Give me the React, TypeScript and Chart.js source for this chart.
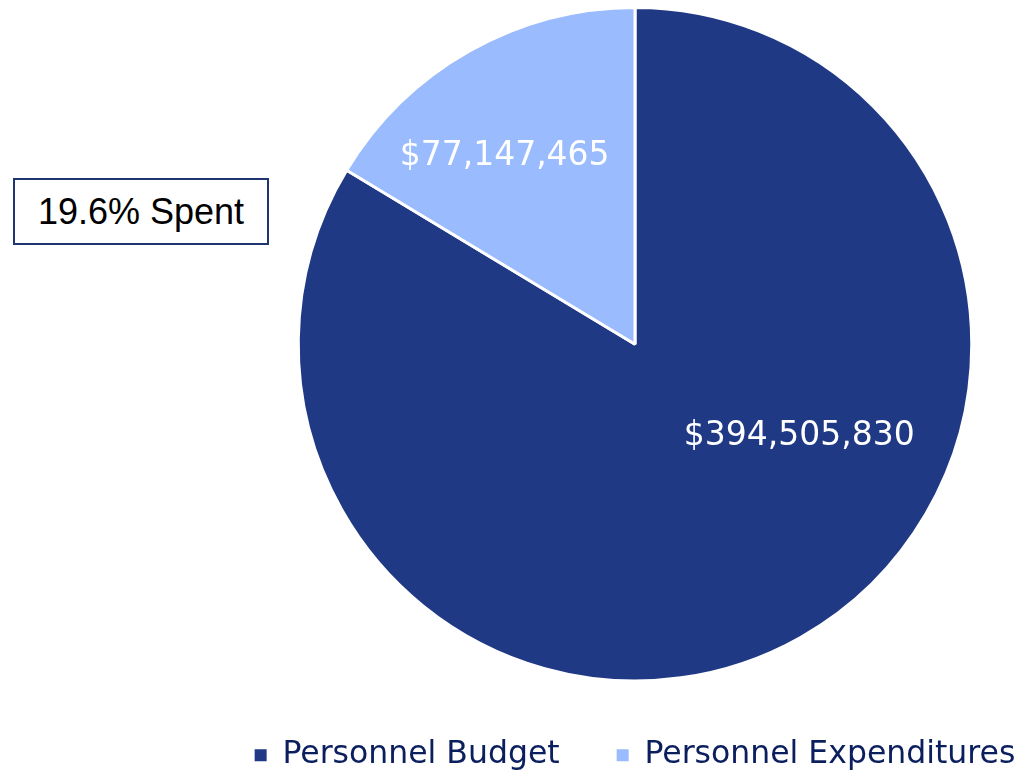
import React, { useEffect, useRef } from "react";
import { Chart, registerables } from "chart.js";

Chart.register(...registerables);

const categories = ["Personnel Budget", "Personnel Expenditures"];
const values = [394505830, 77147465];
const valueLabels = ["$394,505,830", "$77,147,465"];
const sliceColors = ["#1F3985", "#9ABBFD"];
// label placement: angle (deg, 0 = 3 o'clock, clockwise) and fraction of radius
const labelAngles = [29.4, -124.7];
const labelRadii = [0.56, 0.68];
const annotationText = "19.6% Spent";

const FONT = "'Liberation Sans', Arial, sans-serif";
const FONT2 = "'DejaVu Sans', sans-serif";

const labelPlugin = {
  id: "sliceLabels",
  afterDatasetsDraw(chart: any) {
    const meta = chart.getDatasetMeta(0);
    const ctx = chart.ctx;
    ctx.save();
    ctx.fillStyle = "#FFFFFF";
    ctx.font = `33px ${FONT2}`;
    ctx.textAlign = "center";
    ctx.textBaseline = "middle";
    meta.data.forEach((arc: any, i: number) => {
      const a = (labelAngles[i] * Math.PI) / 180;
      const r = arc.outerRadius * labelRadii[i];
      ctx.fillText(valueLabels[i], arc.x + r * Math.cos(a), arc.y + r * Math.sin(a));
    });
    ctx.restore();
  },
};

export default function App() {
  const canvasRef = useRef<HTMLCanvasElement | null>(null);

  useEffect(() => {
    if (!canvasRef.current) return;
    const chart = new Chart(canvasRef.current, {
      type: "pie",
      data: {
        labels: categories,
        datasets: [
          {
            data: values,
            backgroundColor: sliceColors,
            borderColor: "#FFFFFF",
            borderWidth: 3,
          },
        ],
      },
      options: {
        animation: false,
        responsive: true,
        maintainAspectRatio: false,
        layout: { padding: { top: 6, bottom: 0, left: 0, right: 0 } },
        plugins: {
          tooltip: { enabled: false },
          legend: {
            position: "bottom",
            labels: {
              boxWidth: 12,
              boxHeight: 12,
              padding: 57,
              color: "#0B1F5E",
              font: { family: FONT2, size: 31.5 },
              generateLabels: (c: any) => {
                const items = (Chart as any).overrides.pie.plugins.legend.labels.generateLabels(c);
                return items.map((it: any) => ({ ...it, lineWidth: 0, strokeStyle: it.fillStyle, fontColor: "#0B1F5E" }));
              },
            },
          },
        },
      },
      plugins: [labelPlugin],
    });
    return () => chart.destroy();
  }, []);

  return (
    <div
      style={{
        position: "fixed",
        left: 0,
        top: 0,
        width: 1029,
        height: 777,
        overflow: "hidden",
        background: "#FFFFFF",
      }}
    >
      <div style={{ position: "absolute", left: 0, top: 0, width: 1270, height: 781 }}>
        <canvas ref={canvasRef} />
      </div>
      <div
        style={{
          position: "absolute",
          left: 13,
          top: 178,
          width: 256,
          height: 67,
          boxSizing: "border-box",
          border: "2px solid #1F3570",
          background: "#FFFFFF",
          display: "flex",
          alignItems: "center",
          justifyContent: "center",
          fontFamily: FONT,
          fontSize: 36,
          color: "#000000",
        }}
      >
        {annotationText}
      </div>
    </div>
  );
}
